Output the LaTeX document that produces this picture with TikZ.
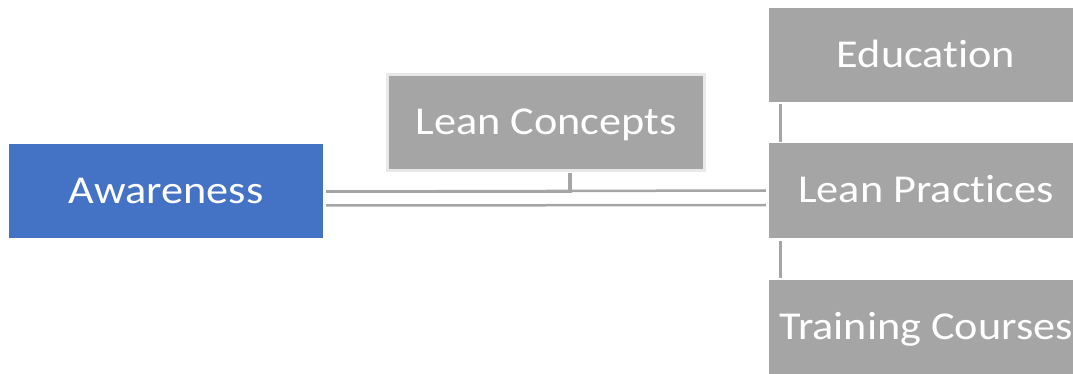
\documentclass[tikz,border=0pt]{standalone}
\usepackage{fontspec}
\setmainfont{Carlito}[FakeStretch=1.12,Ligatures=NoCommon]
\definecolor{boxgrey}{HTML}{A5A5A5}
\definecolor{boxblue}{HTML}{4472C4}
\definecolor{rimgrey}{HTML}{E8E8E8}
\definecolor{linegrey}{HTML}{A5A5A5}
\begin{document}
\begin{tikzpicture}[x=1pt,y=-1pt,
  boxbase/.style={rectangle,inner sep=0pt,minimum width=314pt,minimum height=94pt,
    text=white,font=\fontsize{39.5}{46}\selectfont,text height=25pt,text depth=0pt,align=center},
  greybox/.style={boxbase,fill=boxgrey},
  bluebox/.style={boxbase,fill=boxblue},
  rimbox/.style={greybox,draw=rimgrey,line width=3pt,minimum width=317pt,minimum height=96pt},
  conn/.style={draw=linegrey,line width=2.5pt}]
\useasboundingbox (0,0) rectangle (1073,374);
\clip (0,0) rectangle (1073,374);
\node[bluebox] (aw) at (166,191) {Awareness};
\node[rimbox] (lc) at (546,122.5) {Lean Concepts};
\node[greybox] (ed) at (926,55) {Education};
\node[greybox] (lp) at (926,190.5) {Lean Practices};
\node[greybox] (tc) at (926,327) {Training Courses};
% connectors
\draw[conn] ([xshift=3pt,yshift=-0.5pt]aw.east) -- ([xshift=-3pt]lp.west);
\draw[conn,line width=3.2pt] ([xshift=3pt,yshift=-0.5pt]aw.east) -| ([xshift=24pt,yshift=-1.5pt]lc.south);
\draw[conn] ([xshift=3pt,yshift=-14.5pt]aw.east) -- ([xshift=-3pt,yshift=-14.5pt]lp.west);
\draw[conn] ([xshift=11.5pt,yshift=-2pt]ed.south west) -- ([xshift=11.5pt,yshift=1.5pt]lp.north west);
\draw[conn] ([xshift=11.5pt,yshift=-3.5pt]lp.south west) -- ([xshift=11.5pt,yshift=2pt]tc.north west);
\end{tikzpicture}
\end{document}
